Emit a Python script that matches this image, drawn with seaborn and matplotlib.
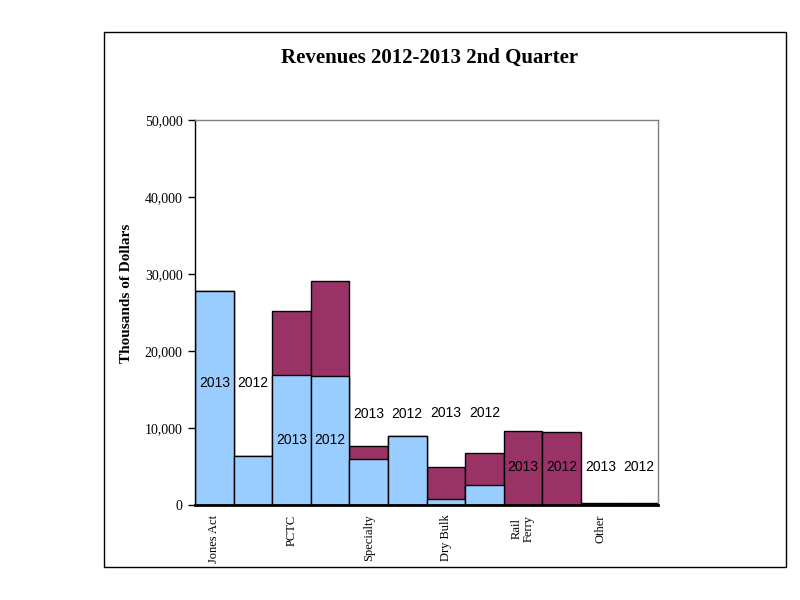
#!/usr/bin/env python
# Revenues 2012-2013 2nd quarter, stacked bars per category and year

import pandas as pd
import matplotlib
matplotlib.use('Agg')
import matplotlib.pyplot as plt
import matplotlib.patches as mpatches
from matplotlib.ticker import FuncFormatter
import seaborn as sns

# Data (thousands of dollars)
categories = ['Jones Act', 'PCTC', 'Specialty', 'Dry Bulk', 'Rail\nFerry', 'Other']
years = ['2013', '2012']
blue_values = [27800, 6400, 16900, 16750, 6000, 9000, 800, 2600, 0, 0, 0, 0]
maroon_values = [0, 0, 8300, 12350, 1700, 0, 4100, 4150, 9600, 9500, 300, 300]
label_heights = [15800, 15800, 8400, 8400, 11800, 11800, 11900, 11900, 5000, 5000, 5000, 5000]

BLUE = '#99ccff'
MAROON = '#993366'

sns.set_theme(style='white')
plt.rcParams['font.family'] = ['Liberation Serif', 'DejaVu Serif']
plt.rcParams['text.color'] = 'black'
plt.rcParams['axes.labelcolor'] = 'black'
plt.rcParams['xtick.color'] = 'black'
plt.rcParams['ytick.color'] = 'black'

# Build one row per bar
rows = []
for i, cat in enumerate(categories):
    for j, yr in enumerate(years):
        k = i * 2 + j
        rows.append({'Bar': f'{cat} {yr}', 'Year': yr,
                     'Blue': blue_values[k], 'Maroon': maroon_values[k],
                     'Total': blue_values[k] + maroon_values[k]})
df = pd.DataFrame(rows)

fig = plt.figure(figsize=(8, 6), dpi=100)
ax = fig.add_axes([0.24375, 0.1583, 0.579, 0.6417])

sns.barplot(data=df, x='Bar', y='Total', color=MAROON, width=1.0,
            edgecolor='black', linewidth=1, saturation=1, ax=ax)
sns.barplot(data=df, x='Bar', y='Blue', color=BLUE, width=1.0,
            edgecolor='black', linewidth=1, saturation=1, ax=ax)

ax.set_xlim(-0.5, len(df) - 0.5)
ax.set_ylim(0, 50000)
ax.set_yticks(range(0, 50001, 10000))
ax.yaxis.set_major_formatter(FuncFormatter(lambda v, p: f'{int(v):,}'))
ax.tick_params(axis='y', left=True, length=5, width=1, color='black',
               labelsize=10, pad=4, labelcolor='black')

# Category labels on the first bar of each pair
ax.set_xticks(range(0, len(df), 2))
ax.set_xticklabels(categories, rotation=90, fontsize=9, va='top', ha='center',
                   linespacing=1.0)
ax.tick_params(axis='x', bottom=False, pad=1, labelcolor='black')

ax.set_xlabel('')
ax.set_ylabel('Thousands of Dollars', fontsize=11, fontweight='bold')
ax.yaxis.set_label_coords(-0.134, 0.55)

for side in ['top', 'right']:
    ax.spines[side].set_color('#808080')
    ax.spines[side].set_linewidth(1)
ax.spines['left'].set_color('black')
ax.spines['left'].set_linewidth(1)
ax.spines['bottom'].set_color('black')
ax.spines['bottom'].set_linewidth(2)

# Year labels inside the chart
for k, (yr, h) in enumerate(zip(df['Year'], label_heights)):
    ax.text(k, h, yr, ha='center', va='center', fontsize=10,
            family=['Liberation Sans', 'DejaVu Sans'], color='black')

fig.text(0.5375, 0.903, 'Revenues 2012-2013 2nd Quarter', ha='center', va='center',
         fontsize=15, fontweight='bold', color='black')

# Outer chart frame
fig.patches.append(mpatches.Rectangle((104 / 800, 1 - 567 / 600), 682 / 800, 535 / 600,
                                      transform=fig.transFigure, fill=False,
                                      edgecolor='black', linewidth=1))

plt.savefig('out.png', dpi=100)
plt.close()
